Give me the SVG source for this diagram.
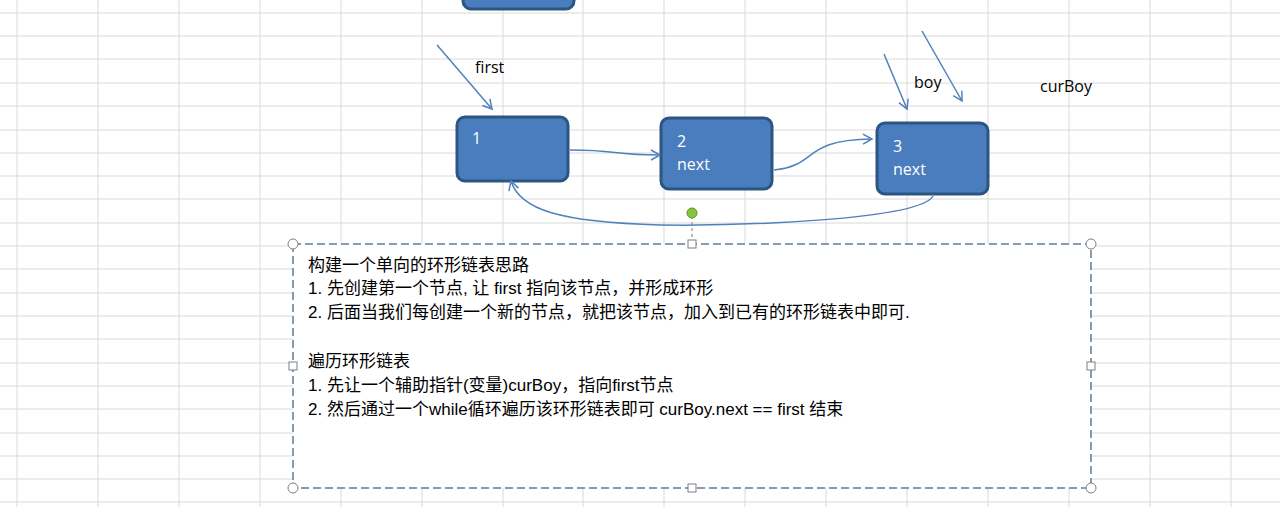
<svg xmlns="http://www.w3.org/2000/svg" width="1280" height="507" viewBox="0 0 1280 507">
<defs>
<style>
.grid line{stroke:#d9d9d9;stroke-width:1}
.node rect{fill:#4a7dbd;stroke:#2b5684;stroke-width:3}
.nt{font-family:"Open Sans","Noto Sans",sans-serif;font-size:16px;fill:#fff}
.lbl{font-family:"Open Sans","Noto Sans",sans-serif;font-size:16px;fill:#000}
.con path{fill:none;stroke:#4f81bd;stroke-width:1.5}
.tx{font-family:"Liberation Sans","Noto Sans CJK SC",sans-serif;font-size:17px;fill:#000}
.h{fill:#fff;stroke:#7f7f7f;stroke-width:1}
</style>
<marker id="a" markerWidth="12" markerHeight="12" refX="10" refY="6" orient="auto" markerUnits="userSpaceOnUse"><path d="M1,1 L10,6 L1,11" fill="none" stroke="#4f81bd" stroke-width="1.5"/></marker>
</defs>
<rect width="1280" height="507" fill="#fff"/>
<g class="grid">
<line x1="17" y1="0" x2="17" y2="507"/><line x1="98" y1="0" x2="98" y2="507"/><line x1="179" y1="0" x2="179" y2="507"/><line x1="260" y1="0" x2="260" y2="507"/><line x1="341" y1="0" x2="341" y2="507"/><line x1="422" y1="0" x2="422" y2="507"/><line x1="503" y1="0" x2="503" y2="507"/><line x1="583" y1="0" x2="583" y2="507"/><line x1="664" y1="0" x2="664" y2="507"/><line x1="745" y1="0" x2="745" y2="507"/><line x1="826" y1="0" x2="826" y2="507"/><line x1="907" y1="0" x2="907" y2="507"/><line x1="988" y1="0" x2="988" y2="507"/><line x1="1069" y1="0" x2="1069" y2="507"/><line x1="1150" y1="0" x2="1150" y2="507"/><line x1="1231" y1="0" x2="1231" y2="507"/>
<line x1="0" y1="13" x2="1280" y2="13"/><line x1="0" y1="36" x2="1280" y2="36"/><line x1="0" y1="59" x2="1280" y2="59"/><line x1="0" y1="83" x2="1280" y2="83"/><line x1="0" y1="106" x2="1280" y2="106"/><line x1="0" y1="130" x2="1280" y2="130"/><line x1="0" y1="153" x2="1280" y2="153"/><line x1="0" y1="176" x2="1280" y2="176"/><line x1="0" y1="199" x2="1280" y2="199"/><line x1="0" y1="223" x2="1280" y2="223"/><line x1="0" y1="246" x2="1280" y2="246"/><line x1="0" y1="269" x2="1280" y2="269"/><line x1="0" y1="293" x2="1280" y2="293"/><line x1="0" y1="316" x2="1280" y2="316"/><line x1="0" y1="339" x2="1280" y2="339"/><line x1="0" y1="363" x2="1280" y2="363"/><line x1="0" y1="386" x2="1280" y2="386"/><line x1="0" y1="409" x2="1280" y2="409"/><line x1="0" y1="433" x2="1280" y2="433"/><line x1="0" y1="456" x2="1280" y2="456"/><line x1="0" y1="479" x2="1280" y2="479"/><line x1="0" y1="502" x2="1280" y2="502"/>
</g>
<g id="node0" class="node"><rect x="463" y="-15" width="111" height="24" rx="8"/></g>
<g id="node1" class="node"><rect x="457" y="117" width="111" height="64" rx="8"/><text class="nt" x="472" y="144">1</text></g>
<g id="node2" class="node"><rect x="661" y="118" width="111" height="71" rx="8"/><text class="nt" x="677" y="147">2</text><text class="nt" x="677" y="170">next</text></g>
<g id="node3" class="node"><rect x="877" y="123" width="111" height="71" rx="8"/><text class="nt" x="893" y="152">3</text><text class="nt" x="893" y="175">next</text></g>
<g class="con">
<path d="M437,45 L492,109" marker-end="url(#a)"/>
<path d="M884,54 L907,109" marker-end="url(#a)"/>
<path d="M922,31 L962,101" marker-end="url(#a)"/>
<path d="M570,150 C620,150 610,155 660,155" marker-end="url(#a)"/>
<path d="M774,170 C820,165 800,140 872,139" marker-end="url(#a)"/>
<path d="M933,196 C920,220 740,226 660,225 C560,222 520,210 511,181" marker-end="url(#a)"/>
</g>
<text class="lbl" x="475" y="73">first</text>
<text class="lbl" x="914" y="88">boy</text>
<text class="lbl" x="1040" y="92">curBoy</text>
<g id="textbox">
<line x1="692" y1="216" x2="692" y2="244" stroke="#7f7f7f" stroke-dasharray="3,3"/>
<circle cx="692" cy="213" r="5" fill="#8ac33e" stroke="#5d8f2a"/>
<rect x="293" y="244" width="798" height="244" fill="#fff" stroke="#5f7c99" stroke-width="1.5" stroke-dasharray="8,4"/>
<text class="tx" x="308" y="271">构建一个单向的环形链表思路</text>
<text class="tx" x="308" y="294">1. 先创建第一个节点, 让 first 指向该节点，并形成环形</text>
<text class="tx" x="308" y="318">2. 后面当我们每创建一个新的节点，就把该节点，加入到已有的环形链表中即可.</text>
<text class="tx" x="308" y="367">遍历环形链表</text>
<text class="tx" x="308" y="391">1. 先让一个辅助指针(变量)curBoy，指向first节点</text>
<text class="tx" x="308" y="415">2. 然后通过一个while循环遍历该环形链表即可 curBoy.next == first 结束</text>
<circle class="h" cx="293" cy="244" r="5"/><circle class="h" cx="1091" cy="244" r="5"/><circle class="h" cx="293" cy="488" r="5"/><circle class="h" cx="1091" cy="488" r="5"/>
<rect class="h" x="688" y="240" width="8" height="8"/><rect class="h" x="688" y="484" width="8" height="8"/><rect class="h" x="289" y="362" width="8" height="8"/><rect class="h" x="1087" y="362" width="8" height="8"/>
</g>
</svg>
